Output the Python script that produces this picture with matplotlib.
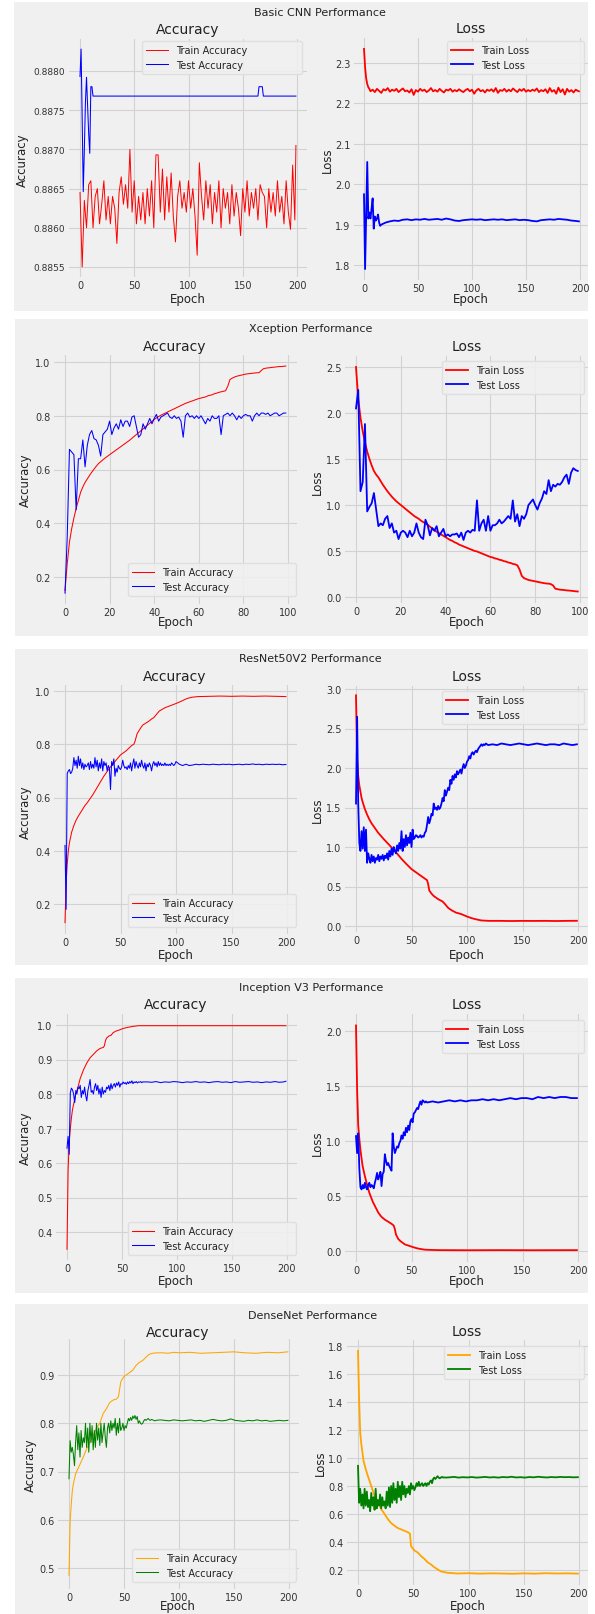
import matplotlib
matplotlib.use("Agg")
import matplotlib.pyplot as plt
from matplotlib.patches import Rectangle

# ---------------- DATA ----------------
model_names = ["Basic CNN", "Xception", "ResNet50V2", "Inception V3", "DenseNet"]
legend_acc = ["Train Accuracy", "Test Accuracy"]
legend_loss = ["Train Loss", "Test Loss"]

# Basic CNN
cnn_train_acc_ep = list(range(0, 200, 2)) + [199]
cnn_train_acc = [
    0.88645, 0.88550, 0.88635, 0.88600, 0.88655, 0.88660, 0.88600, 0.88640, 0.88650, 0.88605,
    0.88630, 0.88660, 0.88610, 0.88640, 0.88605, 0.88640, 0.88625, 0.88580, 0.88645, 0.88665,
    0.88630, 0.88655, 0.88625, 0.88700, 0.88620, 0.88660, 0.88605, 0.88640, 0.88610, 0.88645,
    0.88605, 0.88650, 0.88615, 0.88660, 0.88600, 0.88693, 0.88693, 0.88620, 0.88675, 0.88610,
    0.88665, 0.88620, 0.88670, 0.88615, 0.88582, 0.88640, 0.88660, 0.88625, 0.88645, 0.88620,
    0.88660, 0.88625, 0.88650, 0.88615, 0.88565, 0.88683, 0.88640, 0.88610, 0.88660, 0.88625,
    0.88655, 0.88605, 0.88645, 0.88620, 0.88660, 0.88600, 0.88650, 0.88625, 0.88645, 0.88605,
    0.88655, 0.88615, 0.88645, 0.88625, 0.88590, 0.88650, 0.88620, 0.88660, 0.88615, 0.88645,
    0.88625, 0.88650, 0.88610, 0.88655, 0.88645, 0.88640, 0.88600, 0.88650, 0.88620, 0.88645,
    0.88615, 0.88660, 0.88620, 0.88640, 0.88605, 0.88660, 0.88620, 0.88598, 0.88680, 0.88610,
    0.88705,
]
cnn_test_acc_ep = [0, 1, 2, 3, 4, 5, 6, 7, 8, 9, 10, 11, 12, 164, 165, 168, 169, 199]
cnn_test_acc = [0.88793, 0.88828, 0.88740, 0.88646, 0.88700, 0.88760, 0.88792, 0.88756, 0.88720,
                0.88695, 0.88780, 0.88780, 0.88768, 0.88768, 0.88780, 0.88780, 0.88768, 0.88768]

cnn_train_loss_ep = [0, 1, 2, 3, 4, 5] + list(range(6, 200, 2)) + [199]
cnn_train_loss = [2.335, 2.290, 2.262, 2.248, 2.240, 2.236,
    2.230, 2.234, 2.228, 2.236, 2.231, 2.226, 2.235, 2.232, 2.238, 2.229,
    2.234, 2.231, 2.236, 2.228, 2.233, 2.237, 2.230, 2.232, 2.227, 2.235,
    2.221, 2.233, 2.229, 2.236, 2.231, 2.234, 2.228, 2.232, 2.238, 2.230,
    2.233, 2.229, 2.236, 2.231, 2.227, 2.234, 2.232, 2.236, 2.229, 2.233,
    2.230, 2.235, 2.231, 2.228, 2.233, 2.236, 2.230, 2.234, 2.224, 2.232,
    2.236, 2.230, 2.233, 2.227, 2.234, 2.231, 2.235, 2.229, 2.238, 2.226,
    2.233, 2.231, 2.236, 2.229, 2.234, 2.230, 2.237, 2.232, 2.228, 2.235,
    2.231, 2.236, 2.229, 2.233, 2.230, 2.234, 2.231, 2.237, 2.228, 2.233,
    2.230, 2.235, 2.226, 2.238, 2.229, 2.233, 2.224, 2.239, 2.228, 2.235,
    2.222, 2.236, 2.229, 2.233, 2.227, 2.234, 2.231,
    2.230]
cnn_test_loss_ep = list(range(17)) + list(range(20, 200, 4)) + [199]
cnn_test_loss = [1.975, 1.790, 1.920, 2.055, 1.915, 1.930, 1.915, 1.940, 1.965, 1.890,
    1.920, 1.910, 1.915, 1.925, 1.905, 1.897, 1.900,
    1.905, 1.908, 1.910, 1.909, 1.912, 1.913, 1.911, 1.913, 1.912, 1.914,
    1.912, 1.913, 1.914, 1.912, 1.915, 1.913, 1.910, 1.909, 1.911, 1.912,
    1.913, 1.912, 1.913, 1.911, 1.912, 1.913, 1.912, 1.913, 1.911, 1.912,
    1.913, 1.911, 1.912, 1.911, 1.909, 1.908, 1.911, 1.912, 1.913, 1.912,
    1.914, 1.913, 1.912, 1.910, 1.909,
    1.908]

# Xception (100 epochs)
xc_ep = list(range(100))
xc_train_acc = [
    0.150, 0.250, 0.330, 0.380, 0.420, 0.455, 0.485, 0.515, 0.535, 0.552,
    0.565, 0.578, 0.590, 0.601, 0.612, 0.622, 0.629, 0.636, 0.643, 0.649,
    0.655, 0.661, 0.667, 0.673, 0.679, 0.685, 0.691, 0.697, 0.703, 0.709,
    0.716, 0.723, 0.730, 0.737, 0.744, 0.751, 0.758, 0.765, 0.772, 0.779,
    0.786, 0.792, 0.797, 0.802, 0.806, 0.810, 0.814, 0.818, 0.822, 0.826,
    0.830, 0.834, 0.838, 0.842, 0.846, 0.849, 0.852, 0.855, 0.858, 0.861,
    0.864, 0.866, 0.868, 0.870, 0.874, 0.876, 0.878, 0.882, 0.884, 0.887,
    0.889, 0.891, 0.893, 0.910, 0.935, 0.940, 0.944, 0.947, 0.949, 0.951,
    0.953, 0.955, 0.956, 0.957, 0.958, 0.959, 0.960, 0.960, 0.968, 0.975,
    0.977, 0.978, 0.979, 0.980, 0.981, 0.982, 0.983, 0.983, 0.984, 0.985,
]
xc_test_acc = [
    0.140, 0.350, 0.675, 0.665, 0.655, 0.450, 0.640, 0.640, 0.710, 0.610,
    0.690, 0.730, 0.745, 0.715, 0.710, 0.690, 0.650, 0.730, 0.740, 0.750,
    0.780, 0.730, 0.755, 0.770, 0.750, 0.785, 0.760, 0.780, 0.780, 0.760,
    0.795, 0.800, 0.760, 0.720, 0.730, 0.770, 0.750, 0.770, 0.790, 0.770,
    0.790, 0.805, 0.780, 0.795, 0.800, 0.805, 0.810, 0.795, 0.790, 0.800,
    0.790, 0.795, 0.780, 0.720, 0.800, 0.810, 0.795, 0.800, 0.790, 0.800,
    0.790, 0.800, 0.785, 0.770, 0.790, 0.780, 0.800, 0.790, 0.790, 0.800,
    0.730, 0.800, 0.805, 0.810, 0.800, 0.810, 0.800, 0.785, 0.800, 0.790,
    0.800, 0.805, 0.800, 0.800, 0.780, 0.800, 0.810, 0.800, 0.810, 0.810,
    0.805, 0.810, 0.800, 0.805, 0.810, 0.810, 0.800, 0.805, 0.810, 0.810,
]
xc_train_loss = [
    2.50, 2.15, 1.95, 1.80, 1.68, 1.58, 1.50, 1.43, 1.37, 1.33,
    1.30, 1.26, 1.22, 1.185, 1.15, 1.12, 1.09, 1.065, 1.04, 1.02,
    1.00, 0.98, 0.96, 0.94, 0.92, 0.90, 0.88, 0.865, 0.85, 0.83,
    0.815, 0.80, 0.785, 0.765, 0.745, 0.725, 0.71, 0.695, 0.68, 0.665,
    0.65, 0.635, 0.62, 0.61, 0.595, 0.585, 0.57, 0.56, 0.55, 0.54,
    0.53, 0.52, 0.51, 0.50, 0.495, 0.485, 0.475, 0.465, 0.455, 0.445,
    0.435, 0.43, 0.42, 0.415, 0.405, 0.40, 0.39, 0.385, 0.375, 0.37,
    0.36, 0.355, 0.345, 0.30, 0.23, 0.205, 0.195, 0.185, 0.18, 0.175,
    0.17, 0.165, 0.16, 0.155, 0.15, 0.147, 0.145, 0.14, 0.125, 0.09,
    0.085, 0.08, 0.078, 0.075, 0.072, 0.07, 0.068, 0.065, 0.062, 0.06,
]
xc_test_loss = [
    2.05, 2.25, 1.15, 1.25, 1.88, 0.93, 0.98, 1.02, 1.13, 0.95,
    0.77, 0.80, 0.78, 0.85, 0.88, 0.75, 0.80, 0.70, 0.72, 0.63,
    0.70, 0.72, 0.70, 0.65, 0.72, 0.66, 0.70, 0.80, 0.70, 0.65,
    0.63, 0.84, 0.78, 0.67, 0.75, 0.72, 0.77, 0.66, 0.70, 0.74,
    0.66, 0.68, 0.66, 0.68, 0.68, 0.69, 0.65, 0.70, 0.62, 0.70,
    0.72, 0.70, 0.73, 0.72, 1.05, 0.72, 0.80, 0.84, 0.72, 0.88,
    0.72, 0.78, 0.78, 0.80, 0.84, 0.80, 0.82, 0.85, 0.88, 0.85,
    1.05, 0.82, 0.90, 0.77, 0.88, 0.85, 0.90, 1.00, 1.03, 1.06,
    1.00, 0.95, 1.02, 1.07, 1.15, 1.12, 1.27, 1.15, 1.22, 1.20,
    1.23, 1.22, 1.25, 1.30, 1.33, 1.23, 1.35, 1.40, 1.38, 1.37,
]

# ResNet50V2
res_train_acc_ep = [0, 1, 2, 3, 4, 5, 6, 8, 10, 12, 15, 18, 20, 25, 30, 35, 40, 45, 50, 55, 60, 62,
                    63, 65, 68, 70, 75, 78, 80, 82, 85, 90, 95, 100, 105, 110, 115, 120, 130, 140,
                    150, 160, 170, 180, 190, 199]
res_train_acc = [0.13, 0.28, 0.35, 0.40, 0.43, 0.45, 0.47, 0.495, 0.515, 0.53, 0.55, 0.57, 0.58,
                 0.61, 0.645, 0.68, 0.71, 0.735, 0.76, 0.775, 0.795, 0.80, 0.81, 0.84, 0.86, 0.872,
                 0.885, 0.895, 0.90, 0.91, 0.925, 0.937, 0.945, 0.953, 0.962, 0.972, 0.977, 0.979,
                 0.980, 0.981, 0.980, 0.981, 0.980, 0.981, 0.980, 0.979]
res_test_acc_ep = list(range(100)) + list(range(100, 200, 3))
res_test_acc = [
    0.42, 0.18, 0.69, 0.70, 0.705, 0.69, 0.695, 0.71, 0.75, 0.72,
    0.74, 0.71, 0.755, 0.72, 0.745, 0.71, 0.73, 0.705, 0.725, 0.715,
    0.72, 0.73, 0.705, 0.735, 0.71, 0.725, 0.71, 0.75, 0.715, 0.74,
    0.70, 0.73, 0.71, 0.745, 0.70, 0.735, 0.72, 0.73, 0.70, 0.72,
    0.71, 0.63, 0.735, 0.72, 0.745, 0.68, 0.71, 0.695, 0.72, 0.71,
    0.705, 0.715, 0.74, 0.72, 0.71, 0.715, 0.705, 0.72, 0.71, 0.73,
    0.70, 0.725, 0.745, 0.71, 0.735, 0.72, 0.71, 0.73, 0.715, 0.74,
    0.72, 0.71, 0.73, 0.70, 0.725, 0.715, 0.73, 0.72, 0.70, 0.725,
    0.735, 0.72, 0.73, 0.715, 0.735, 0.72, 0.73, 0.72, 0.725, 0.72,
    0.73, 0.72, 0.725, 0.72, 0.725, 0.72, 0.73, 0.725, 0.72, 0.725,
    0.735, 0.725, 0.72, 0.725, 0.72, 0.722, 0.725, 0.723, 0.725, 0.724,
    0.723, 0.725, 0.724, 0.723, 0.725, 0.724, 0.725, 0.723, 0.724, 0.725,
    0.723, 0.725, 0.724, 0.726, 0.724, 0.725, 0.723, 0.725, 0.724, 0.725,
    0.724, 0.725, 0.723, 0.724,
]
res_train_loss_ep = [0, 1, 2, 3, 4, 5, 6, 8, 10, 12, 14, 17, 20, 25, 29, 35, 41, 45, 50, 55, 60, 62,
                     63, 64, 65, 66, 68, 70, 74, 78, 80, 83, 86, 90, 95, 100, 104, 108, 113, 120,
                     130, 140, 150, 160, 170, 180, 190, 199]
res_train_loss = [2.92, 2.10, 1.90, 1.78, 1.70, 1.62, 1.57, 1.48, 1.41, 1.35, 1.30, 1.24, 1.18,
                  1.10, 1.04, 0.95, 0.85, 0.79, 0.72, 0.67, 0.62, 0.60, 0.59, 0.58, 0.53, 0.45,
                  0.41, 0.38, 0.34, 0.31, 0.28, 0.23, 0.20, 0.17, 0.15, 0.12, 0.10, 0.085, 0.07,
                  0.065, 0.065, 0.063, 0.065, 0.064, 0.065, 0.063, 0.065, 0.066]
res_test_loss_ep = list(range(120)) + list(range(123, 200, 4))
res_test_loss = [
    1.55, 2.65, 1.55, 1.05, 0.95, 1.20, 0.98, 1.25, 0.95, 1.22,
    0.80, 0.92, 0.85, 0.80, 0.90, 0.82, 0.88, 0.80, 0.86, 0.84,
    0.90, 0.82, 0.88, 0.85, 0.90, 0.83, 0.89, 0.86, 0.92, 0.84,
    0.95, 0.88, 0.98, 0.90, 1.00, 0.95, 0.92, 1.02, 0.95, 1.05,
    0.98, 1.20, 0.95, 1.10, 1.00, 1.15, 1.02, 1.12, 1.05, 1.18,
    1.00, 1.22, 1.10, 1.12, 1.15, 1.14, 1.12, 1.13, 1.15, 1.12,
    1.14, 1.13, 1.18, 1.20, 1.28, 1.38, 1.30, 1.35, 1.42, 1.40,
    1.55, 1.48, 1.50, 1.47, 1.52, 1.48, 1.50, 1.55, 1.62, 1.58,
    1.72, 1.65, 1.70, 1.75, 1.72, 1.85, 1.80, 1.90, 1.85, 1.92,
    1.88, 1.96, 1.92, 1.95, 1.98, 1.93, 2.00, 2.05, 2.00, 2.03,
    2.08, 2.10, 2.15, 2.12, 2.18, 2.20, 2.17, 2.20, 2.22, 2.20,
    2.24, 2.26, 2.28, 2.30, 2.28, 2.30, 2.29, 2.31, 2.30, 2.29,
    2.30, 2.29, 2.31, 2.30, 2.29, 2.30, 2.31, 2.30, 2.29, 2.30,
    2.31, 2.30, 2.29, 2.30, 2.30, 2.29, 2.31, 2.30, 2.29, 2.30,
]

# Inception V3
inc_train_acc_ep = [0, 1, 2, 3, 4, 5, 6, 7, 8, 10, 12, 15, 18, 21, 24, 27, 30, 33, 34, 35, 36, 38,
                    40, 42, 45, 48, 51, 55, 60, 65, 70, 80, 100, 120, 140, 160, 180, 199]
inc_train_acc = [0.35, 0.58, 0.66, 0.70, 0.73, 0.755, 0.77, 0.785, 0.80, 0.82, 0.845, 0.87, 0.89,
                 0.905, 0.915, 0.925, 0.932, 0.935, 0.940, 0.955, 0.962, 0.968, 0.970, 0.978,
                 0.983, 0.986, 0.990, 0.993, 0.996, 0.998, 0.998, 0.998, 0.998, 0.998, 0.998,
                 0.998, 0.998, 0.998]
inc_test_acc_ep = list(range(70)) + list(range(73, 200, 4)) + [199]
inc_test_acc = [
    0.643, 0.677, 0.625, 0.803, 0.817, 0.812, 0.800, 0.775, 0.810, 0.800,
    0.820, 0.815, 0.825, 0.790, 0.810, 0.800, 0.820, 0.795, 0.780, 0.810,
    0.825, 0.842, 0.805, 0.810, 0.800, 0.820, 0.830, 0.810, 0.825, 0.800,
    0.815, 0.790, 0.820, 0.800, 0.810, 0.805, 0.820, 0.815, 0.825, 0.810,
    0.830, 0.815, 0.825, 0.830, 0.820, 0.832, 0.825, 0.835, 0.820, 0.830,
    0.828, 0.835, 0.830, 0.833, 0.828, 0.835, 0.830, 0.836, 0.832, 0.838,
    0.830, 0.835, 0.833, 0.836, 0.832, 0.835, 0.834, 0.836, 0.833, 0.835,
    0.835, 0.834, 0.836, 0.833, 0.835, 0.834, 0.836, 0.835, 0.833, 0.835,
    0.834, 0.836, 0.834, 0.835, 0.833, 0.835, 0.836, 0.834, 0.835, 0.833,
    0.836, 0.834, 0.835, 0.836, 0.834, 0.835, 0.833, 0.835, 0.834, 0.836,
    0.834, 0.835, 0.837,
]
inc_train_loss_ep = [0, 1, 2, 3, 4, 5, 6, 8, 10, 12, 15, 18, 20, 23, 26, 30, 33, 34, 35, 36, 38,
                     40, 42, 44, 47, 50, 53, 57, 62, 67, 75, 100, 130, 160, 199]
inc_train_loss = [2.05, 1.47, 1.14, 1.02, 0.92, 0.84, 0.77, 0.68, 0.60, 0.53, 0.45, 0.39, 0.35,
                  0.31, 0.285, 0.26, 0.24, 0.23, 0.20, 0.15, 0.11, 0.09, 0.075, 0.06, 0.05, 0.04,
                  0.03, 0.02, 0.012, 0.01, 0.008, 0.007, 0.008, 0.007, 0.008]
inc_test_loss_ep = list(range(65)) + list(range(69, 200, 5))
inc_test_loss = [
    1.045, 0.89, 1.07, 0.75, 0.58, 0.56, 0.60, 0.57, 0.62, 0.58,
    0.56, 0.60, 0.62, 0.58, 0.60, 0.59, 0.57, 0.62, 0.66, 0.71,
    0.65, 0.68, 0.72, 0.59, 0.70, 0.72, 0.88, 0.82, 0.78, 0.80,
    0.77, 0.75, 0.73, 1.07, 0.95, 0.89, 0.92, 0.95, 0.94, 0.98,
    1.00, 1.05, 1.02, 1.08, 1.05, 1.12, 1.08, 1.14, 1.10, 1.18,
    1.20, 1.17, 1.25, 1.26, 1.28, 1.30, 1.29, 1.33, 1.36, 1.33,
    1.37, 1.36, 1.35, 1.36, 1.35,
    1.36, 1.35, 1.36, 1.37, 1.36, 1.37, 1.36, 1.37, 1.37, 1.38,
    1.37, 1.38, 1.37, 1.38, 1.39, 1.38, 1.39, 1.39, 1.38, 1.40,
    1.39, 1.40, 1.39, 1.40, 1.40, 1.39, 1.39,
]

# DenseNet
dn_train_acc_ep = [0, 1, 2, 3, 4, 6, 8, 10, 13, 16, 20, 25, 28, 31, 34, 37, 40, 43, 45, 46, 47, 48,
                   50, 52, 55, 58, 61, 64, 67, 70, 73, 76, 80, 85, 90, 95, 100, 110, 120, 130, 140,
                   150, 160, 170, 180, 190, 199]
dn_train_acc = [0.485, 0.595, 0.63, 0.66, 0.675, 0.695, 0.705, 0.715, 0.73, 0.747, 0.765, 0.79,
                0.80, 0.82, 0.83, 0.843, 0.848, 0.85, 0.855, 0.87, 0.885, 0.89, 0.897, 0.90, 0.905,
                0.91, 0.92, 0.926, 0.93, 0.937, 0.943, 0.945, 0.946, 0.946, 0.945, 0.947, 0.946,
                0.947, 0.945, 0.946, 0.947, 0.948, 0.946, 0.945, 0.947, 0.946, 0.948]
dn_test_acc_ep = list(range(80)) + list(range(83, 200, 4))
dn_test_acc = [
    0.685, 0.764, 0.740, 0.750, 0.735, 0.712, 0.760, 0.795, 0.745, 0.780,
    0.730, 0.785, 0.750, 0.770, 0.760, 0.800, 0.750, 0.790, 0.740, 0.800,
    0.760, 0.795, 0.745, 0.785, 0.750, 0.800, 0.765, 0.790, 0.754, 0.800,
    0.760, 0.780, 0.800, 0.770, 0.750, 0.790, 0.800, 0.780, 0.805, 0.785,
    0.800, 0.790, 0.810, 0.775, 0.800, 0.780, 0.810, 0.785, 0.790, 0.800,
    0.785, 0.795, 0.790, 0.800, 0.810, 0.805, 0.812, 0.806, 0.815, 0.810,
    0.816, 0.808, 0.814, 0.800, 0.805, 0.800, 0.798, 0.800, 0.805, 0.808,
    0.806, 0.808, 0.810, 0.807, 0.806, 0.808, 0.807, 0.806, 0.805, 0.806,
    0.807, 0.806, 0.805, 0.807, 0.806, 0.805, 0.806, 0.807, 0.805, 0.806,
    0.804, 0.806, 0.808, 0.806, 0.805, 0.806, 0.809, 0.806, 0.805, 0.804,
    0.806, 0.805, 0.807, 0.805, 0.806, 0.804, 0.805, 0.806, 0.805, 0.806,
]
dn_train_loss_ep = [0, 1, 2, 3, 4, 5, 7, 9, 12, 15, 18, 21, 24, 27, 30, 33, 36, 39, 42, 45, 47,
                    48, 51, 54, 57, 60, 63, 66, 69, 72, 75, 78, 81, 85, 90, 100, 110, 120, 130,
                    140, 150, 160, 170, 180, 190, 199]
dn_train_loss = [1.765, 1.42, 1.18, 1.10, 1.04, 0.98, 0.92, 0.87, 0.80, 0.73, 0.68, 0.635, 0.60,
                 0.564, 0.535, 0.516, 0.50, 0.49, 0.48, 0.47, 0.46, 0.37, 0.34, 0.325, 0.30, 0.28,
                 0.255, 0.24, 0.22, 0.205, 0.19, 0.185, 0.18, 0.178, 0.175, 0.177, 0.174, 0.176,
                 0.175, 0.173, 0.176, 0.174, 0.177, 0.175, 0.176, 0.174]
dn_test_loss_ep = list(range(80)) + list(range(83, 200, 4))
dn_test_loss = [
    0.944, 0.68, 0.78, 0.66, 0.74, 0.64, 0.78, 0.66, 0.76, 0.65,
    0.70, 0.62, 0.75, 0.66, 0.72, 0.63, 0.78, 0.64, 0.70, 0.66,
    0.74, 0.64, 0.72, 0.66, 0.69, 0.64, 0.76, 0.66, 0.79, 0.65,
    0.80, 0.68, 0.82, 0.70, 0.78, 0.68, 0.83, 0.72, 0.80, 0.70,
    0.83, 0.74, 0.80, 0.72, 0.78, 0.75, 0.80, 0.74, 0.82, 0.78,
    0.80, 0.77, 0.79, 0.82, 0.80, 0.83, 0.80, 0.81, 0.82, 0.80,
    0.81, 0.82, 0.80, 0.82, 0.81, 0.83, 0.84, 0.82, 0.85, 0.86,
    0.85, 0.86, 0.87, 0.86, 0.855, 0.86, 0.865, 0.86, 0.862, 0.86,
    0.862, 0.865, 0.860, 0.863, 0.861, 0.864, 0.860, 0.862, 0.865, 0.861,
    0.863, 0.860, 0.864, 0.862, 0.866, 0.861, 0.863, 0.860, 0.864, 0.862,
    0.866, 0.863, 0.861, 0.864, 0.862, 0.865, 0.863, 0.864, 0.862, 0.863,
]

# tick values
x_ticks_200 = [0, 50, 100, 150, 200]
x_ticks_100 = [0, 20, 40, 60, 80, 100]
cnn_acc_yticks = [0.8855, 0.8860, 0.8865, 0.8870, 0.8875, 0.8880]
cnn_loss_yticks = [1.8, 1.9, 2.0, 2.1, 2.2, 2.3]
xc_acc_yticks = [0.2, 0.4, 0.6, 0.8, 1.0]
xc_loss_yticks = [0.0, 0.5, 1.0, 1.5, 2.0, 2.5]
res_acc_yticks = [0.2, 0.4, 0.6, 0.8, 1.0]
res_loss_yticks = [0.0, 0.5, 1.0, 1.5, 2.0, 2.5, 3.0]
inc_acc_yticks = [0.4, 0.5, 0.6, 0.7, 0.8, 0.9, 1.0]
inc_loss_yticks = [0.0, 0.5, 1.0, 1.5, 2.0]
dn_acc_yticks = [0.5, 0.6, 0.7, 0.8, 0.9]
dn_loss_yticks = [0.2, 0.4, 0.6, 0.8, 1.0, 1.2, 1.4, 1.6, 1.8]

# ---------------- FIGURE ----------------
W, H = 595, 1615
BG = "#f0f0f0"
TXT = "#222222"
fig = plt.figure(figsize=(W / 100, H / 100), dpi=100, facecolor="white")


def fx(px):
    return px / W


def fy(py):
    return 1 - py / H


def panel_bg(x0, y0, x1, y1):
    fig.patches.append(Rectangle((fx(x0), fy(y1)), (x1 - x0) / W, (y1 - y0) / H,
                                 transform=fig.transFigure, facecolor=BG,
                                 edgecolor="none", zorder=-5))


def make_axes(box, xcal, ycal, xticks, yticks, yfmt, ypad=2.5, ysize=7):
    x0, x1, y0, y1 = box
    ax = fig.add_axes([fx(x0), fy(y1), (x1 - x0) / W, (y1 - y0) / H])
    ax.set_facecolor(BG)
    v1, p1, v2, p2 = xcal
    a = (p2 - p1) / (v2 - v1)
    ax.set_xlim(v1 + (x0 - p1) / a, v1 + (x1 - p1) / a)
    v1, p1, v2, p2 = ycal
    a = (p2 - p1) / (v2 - v1)
    ax.set_ylim(v1 + (y1 - p1) / a, v1 + (y0 - p1) / a)
    ax.set_xticks(xticks)
    ax.set_xticklabels([str(t) for t in xticks])
    ax.set_yticks(yticks)
    ax.set_yticklabels([yfmt % t for t in yticks])
    ax.tick_params(length=0, labelsize=7, colors="#333333")
    ax.tick_params(axis="y", pad=ypad, labelsize=ysize)
    ax.tick_params(axis="x", pad=2.5)
    for s in ax.spines.values():
        s.set_visible(False)
    ax.grid(True, color="#d2d2d2", lw=0.8)
    ax.set_axisbelow(True)
    return ax


def text(x, y, s, size, rot=0):
    fig.text(fx(x), fy(y), s, ha="center", va="center", fontsize=size,
             color=TXT, rotation=rot)


def legend(ax, labels, box, loc):
    x0, y0, x1, y1 = box
    handles = ax.get_lines()
    leg = ax.legend(handles, labels, loc=loc, mode="expand",
                    bbox_to_anchor=(fx(x0), fy(y1), (x1 - x0) / W, (y1 - y0) / H),
                    bbox_transform=fig.transFigure, borderaxespad=0, fontsize=7,
                    frameon=True, fancybox=True, handlelength=2.2, borderpad=0.45,
                    labelspacing=0.45)
    fr = leg.get_frame()
    fr.set_facecolor(BG)
    fr.set_edgecolor("#dedede")
    fr.set_alpha(0.9)
    for t in leg.get_texts():
        t.set_color(TXT)


# panel backgrounds
for pb in [(14, 3, 588, 312), (15, 320, 588, 637), (15, 650, 588, 966),
           (15, 979, 588, 1294), (15, 1305, 588, 1615)]:
    panel_bg(*pb)

LW_A = 0.75
LW_L = 1.3

# ---- Panel 1: Basic CNN ----
ax = make_axes((69, 307, 40, 278), (0, 80, 200, 297), (0.8880, 72, 0.8855, 268),
               x_ticks_200, cnn_acc_yticks, "%.4f", ypad=3, ysize=6.5)
ax.plot(cnn_train_acc_ep, cnn_train_acc, color="red", lw=0.7)
ax.plot(cnn_test_acc_ep, cnn_test_acc, color="blue", lw=LW_A)
legend(ax, legend_acc, (142, 42, 302, 76), "upper left")
ax = make_axes((354, 588, 39, 281), (0, 364, 200, 580), (2.3, 64, 1.8, 266),
               x_ticks_200, cnn_loss_yticks, "%.1f")
ax.plot(cnn_train_loss_ep, cnn_train_loss, color="red", lw=LW_L)
ax.plot(cnn_test_loss_ep, cnn_test_loss, color="blue", lw=LW_L)
legend(ax, legend_loss, (447, 42, 584, 75), "upper left")
text(320, 13, model_names[0] + " Performance", 8)
text(188, 30, "Accuracy", 10)
text(471, 29, "Loss", 10)
text(22, 160, "Accuracy", 8.5, 90)
text(327, 160, "Loss", 8.5, 90)
text(188, 300, "Epoch", 8.5)
text(471, 300, "Epoch", 8.5)

# ---- Panel 2: Xception ----
ax = make_axes((54, 297, 356, 605), (0, 65, 100, 288), (1.0, 363, 0.2, 578),
               x_ticks_100, xc_acc_yticks, "%.1f")
ax.plot(xc_ep, xc_train_acc, color="red", lw=LW_A)
ax.plot(xc_ep, xc_test_acc, color="blue", lw=LW_A)
legend(ax, legend_acc, (128, 567, 296, 597), "lower left")
ax = make_axes((345, 588, 357, 604), (0, 356, 100, 580), (2.5, 368, 0.0, 598),
               x_ticks_100, xc_loss_yticks, "%.1f")
ax.plot(xc_ep, xc_train_loss, color="red", lw=LW_L)
ax.plot(xc_ep, xc_test_loss, color="blue", lw=LW_L)
legend(ax, legend_loss, (442, 362, 584, 392), "upper left")
text(311, 329, model_names[1] + " Performance", 8)
text(175, 347, "Accuracy", 10)
text(467, 347, "Loss", 10)
text(25, 480, "Accuracy", 8.5, 90)
text(317, 482, "Loss", 8.5, 90)
text(176, 623, "Epoch", 8.5)
text(467, 623, "Epoch", 8.5)

# ---- Panel 3: ResNet50V2 ----
ax = make_axes((54, 297, 686, 935), (0, 65, 200, 287), (1.0, 692, 0.2, 905),
               x_ticks_200, res_acc_yticks, "%.1f")
ax.plot(res_train_acc_ep, res_train_acc, color="red", lw=LW_A)
ax.plot(res_test_acc_ep, res_test_acc, color="blue", lw=LW_A)
legend(ax, legend_acc, (128, 897, 296, 928), "lower left")
ax = make_axes((345, 588, 687, 933), (0, 356, 200, 578), (3.0, 690, 0.0, 927),
               x_ticks_200, res_loss_yticks, "%.1f")
ax.plot(res_train_loss_ep, res_train_loss, color="red", lw=LW_L)
ax.plot(res_test_loss_ep, res_test_loss, color="blue", lw=LW_L)
legend(ax, legend_loss, (442, 692, 584, 723), "upper left")
text(310, 659, model_names[2] + " Performance", 8)
text(175, 677, "Accuracy", 10)
text(467, 677, "Loss", 10)
text(25, 812, "Accuracy", 8.5, 90)
text(317, 810, "Loss", 8.5, 90)
text(176, 955, "Epoch", 8.5)
text(467, 955, "Epoch", 8.5)

# ---- Panel 4: Inception V3 ----
ax = make_axes((56, 297, 1015, 1261), (0, 67, 200, 287), (1.0, 1026, 0.4, 1233),
               x_ticks_200, inc_acc_yticks, "%.1f")
ax.plot(inc_train_acc_ep, inc_train_acc, color="red", lw=LW_A)
ax.plot(inc_test_acc_ep, inc_test_acc, color="blue", lw=LW_A)
legend(ax, legend_acc, (128, 1224, 296, 1256), "lower left")
ax = make_axes((345, 588, 1015, 1263), (0, 356, 200, 578), (2.0, 1032, 0.0, 1252),
               x_ticks_200, inc_loss_yticks, "%.1f")
ax.plot(inc_train_loss_ep, inc_train_loss, color="red", lw=LW_L)
ax.plot(inc_test_loss_ep, inc_test_loss, color="blue", lw=LW_L)
legend(ax, legend_loss, (442, 1021, 584, 1050), "upper left")
text(311, 988, model_names[3] + " Performance", 8)
text(176, 1005, "Accuracy", 10)
text(467, 1005, "Loss", 10)
text(25, 1138, "Accuracy", 8.5, 90)
text(317, 1143, "Loss", 8.5, 90)
text(176, 1282, "Epoch", 8.5)
text(467, 1282, "Epoch", 8.5)

# ---- Panel 5: DenseNet ----
ax = make_axes((58, 299, 1340, 1590), (0, 69, 200, 289), (0.9, 1376, 0.5, 1569),
               x_ticks_200, dn_acc_yticks, "%.1f")
ax.plot(dn_train_acc_ep, dn_train_acc, color="orange", lw=LW_A)
ax.plot(dn_test_acc_ep, dn_test_acc, color="green", lw=LW_A)
legend(ax, legend_acc, (132, 1550, 296, 1583), "lower left")
ax = make_axes((347, 588, 1341, 1586), (0, 358, 200, 579), (1.8, 1347, 0.2, 1571),
               x_ticks_200, dn_loss_yticks, "%.1f")
ax.plot(dn_train_loss_ep, dn_train_loss, color="orange", lw=LW_L)
ax.plot(dn_test_loss_ep, dn_test_loss, color="green", lw=LW_L)
legend(ax, legend_loss, (444, 1347, 584, 1377), "upper left")
text(313, 1316, model_names[4] + " Performance", 8)
text(178, 1333, "Accuracy", 10)
text(467, 1332, "Loss", 10)
text(30, 1465, "Accuracy", 8.5, 90)
text(320, 1463, "Loss", 8.5, 90)
text(178, 1607, "Epoch", 8.5)
text(468, 1607, "Epoch", 8.5)

fig.savefig("out.png", dpi=100, facecolor="white")
